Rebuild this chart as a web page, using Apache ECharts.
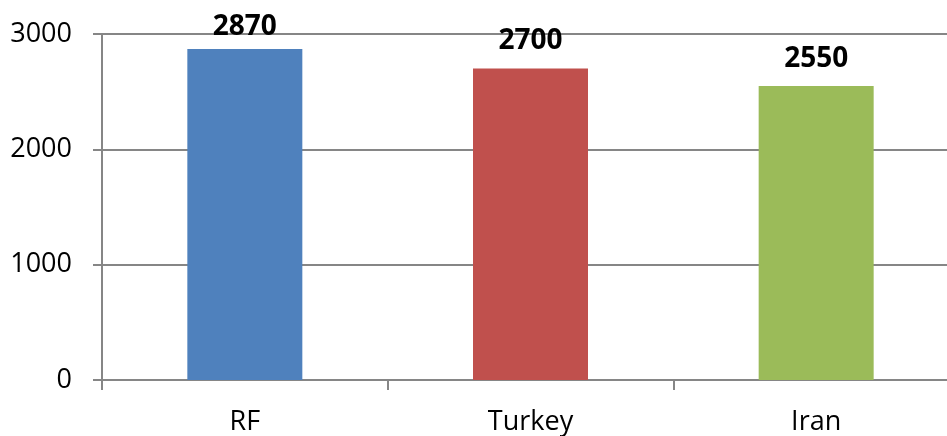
<!DOCTYPE html>
<html>
<head>
<meta charset="utf-8">
<script src="https://cdn.jsdelivr.net/npm/echarts@6/dist/echarts.min.js"></script>
<style>
  html, body { margin: 0; padding: 0; background: #ffffff; overflow: hidden; width: 947px; height: 436px; }
  /* The plot extends slightly beyond the visible right edge */
  #chart { width: 962px; height: 436px; }
</style>
</head>
<body>
<div id="chart"></div>
<script>
// Categories and values for the bar chart
const categories = ['RF', 'Turkey', 'Iran'];
const values = [2870, 2700, 2550];
const barColors = ['#4F81BD', '#C0504D', '#9BBB59'];
const yTicks = [0, 1000, 2000, 3000];
// Gap between each bar top and its value label (the first one sits lower to stay in the plot)
const labelGaps = [8, 14, 13];

const axisGray = '#868686';
const fontFamily = '"Open Sans", "Liberation Sans", sans-serif';

const chart = echarts.init(document.getElementById('chart'), null, { renderer: 'canvas' });

chart.setOption({
  animation: false,
  backgroundColor: '#ffffff',
  grid: { left: 102, top: 34, right: 3, bottom: 54, containLabel: false },
  xAxis: {
    type: 'category',
    data: categories,
    boundaryGap: true,
    axisLine: { show: true, lineStyle: { color: axisGray, width: 2 } },
    axisTick: { show: true, length: 10, lineStyle: { color: axisGray, width: 2 } },
    axisLabel: { color: '#000000', fontSize: 27, fontFamily: fontFamily, margin: 29 },
    splitLine: { show: false }
  },
  yAxis: {
    type: 'value',
    min: yTicks[0],
    max: yTicks[yTicks.length - 1],
    interval: yTicks[1] - yTicks[0],
    axisLine: { show: true, lineStyle: { color: axisGray, width: 2 } },
    axisTick: { show: true, length: 9, lineStyle: { color: axisGray, width: 2 } },
    axisLabel: {
      color: '#000000', fontSize: 27, fontFamily: fontFamily, margin: 30,
      formatter: (v) => String(v)
    },
    splitLine: { show: true, lineStyle: { color: axisGray, width: 2 } }
  },
  series: [{
    type: 'bar',
    barWidth: 115,
    data: values.map((v, i) => ({
      value: v,
      itemStyle: { color: barColors[i] },
      label: { distance: labelGaps[i] }
    })),
    label: {
      show: true,
      position: 'top',
      color: '#000000',
      fontSize: 28,
      fontWeight: 'bold',
      fontFamily: fontFamily
    }
  }]
});
</script>
</body>
</html>
